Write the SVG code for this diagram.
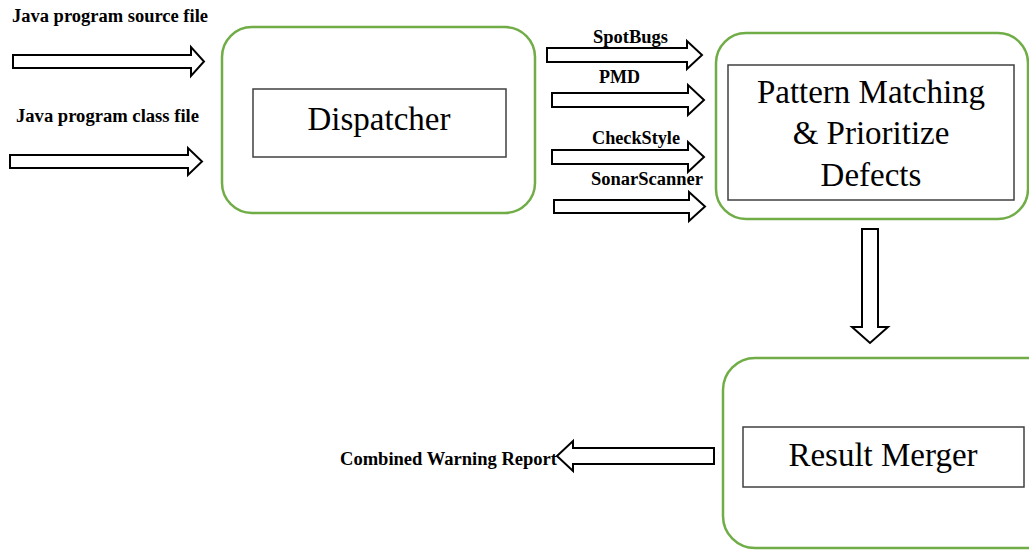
<svg xmlns="http://www.w3.org/2000/svg" width="1029" height="550" viewBox="0 0 1029 550">
<defs>
<style>
.outer{fill:#fff;stroke:#70AD47;stroke-width:2.5}
.inner{fill:#fff;stroke:#404040;stroke-width:1.5}
.arrow{fill:#fff;stroke:#000;stroke-width:2;stroke-linejoin:miter}
.big{font-family:"Liberation Serif","Times New Roman",serif;font-size:33px;fill:#000;text-anchor:middle}
.lbl{font-family:"Liberation Serif","Times New Roman",serif;font-weight:bold;font-size:18px;fill:#000}
</style>
</defs>
<rect width="1029" height="550" fill="#fff"/>
<g id="input-labels">
<text class="lbl" x="12" y="22" textLength="196" lengthAdjust="spacingAndGlyphs">Java program source file</text>
<text class="lbl" x="16" y="122" textLength="183" lengthAdjust="spacingAndGlyphs">Java program class file</text>
</g>
<g id="dispatcher">
<rect class="outer" x="222" y="27" width="313" height="186" rx="30" ry="30"/>
<rect class="inner" x="253" y="89" width="253" height="68"/>
<text class="big" x="379" y="130">Dispatcher</text>
</g>
<g id="pattern-matching">
<rect class="outer" x="716" y="33" width="312" height="186" rx="30" ry="30"/>
<rect class="inner" x="728" y="65" width="286" height="135"/>
<text class="big" x="871" y="103">Pattern Matching</text>
<text class="big" x="871" y="144">&amp; Prioritize</text>
<text class="big" x="871" y="186">Defects</text>
</g>
<g id="result-merger">
<rect class="outer" x="723" y="358" width="340" height="190" rx="32" ry="32"/>
<rect class="inner" x="743" y="427" width="281" height="60"/>
<text class="big" x="883" y="466">Result Merger</text>
</g>
<g id="connectors">
<path class="arrow" d="M13,55 L191,55 L191,47 L204,61.5 L191,76 L191,68 L13,68 Z"/>
<path class="arrow" d="M10,155 L188,155 L188,148 L202,161.5 L188,175 L188,168 L10,168 Z"/>
<path class="arrow" d="M547,48 L687,48 L687,41 L702,55 L687,69 L687,62 L547,62 Z"/>
<path class="arrow" d="M552,93 L688,93 L688,85 L704,100 L688,115 L688,107 L552,107 Z"/>
<path class="arrow" d="M552,150 L688,150 L688,142 L704,157 L688,172 L688,164 L552,164 Z"/>
<path class="arrow" d="M554,200 L689,200 L689,192 L705,206.5 L689,221 L689,213 L554,213 Z"/>
<path class="arrow" d="M862,229 L878,229 L878,327 L888,327 L870,343 L852,327 L862,327 Z"/>
<path class="arrow" d="M714,448 L573,448 L573,441 L557,456 L573,471 L573,464 L714,464 Z"/>
</g>
<g id="connector-labels">
<text class="lbl" x="593" y="43" textLength="75" lengthAdjust="spacingAndGlyphs">SpotBugs</text>
<text class="lbl" x="599" y="83" textLength="41" lengthAdjust="spacingAndGlyphs">PMD</text>
<text class="lbl" x="592" y="144" textLength="88" lengthAdjust="spacingAndGlyphs">CheckStyle</text>
<text class="lbl" x="591" y="185" textLength="112" lengthAdjust="spacingAndGlyphs">SonarScanner</text>
<text class="lbl" x="340" y="465" textLength="217" lengthAdjust="spacingAndGlyphs">Combined Warning Report</text>
</g>
</svg>
